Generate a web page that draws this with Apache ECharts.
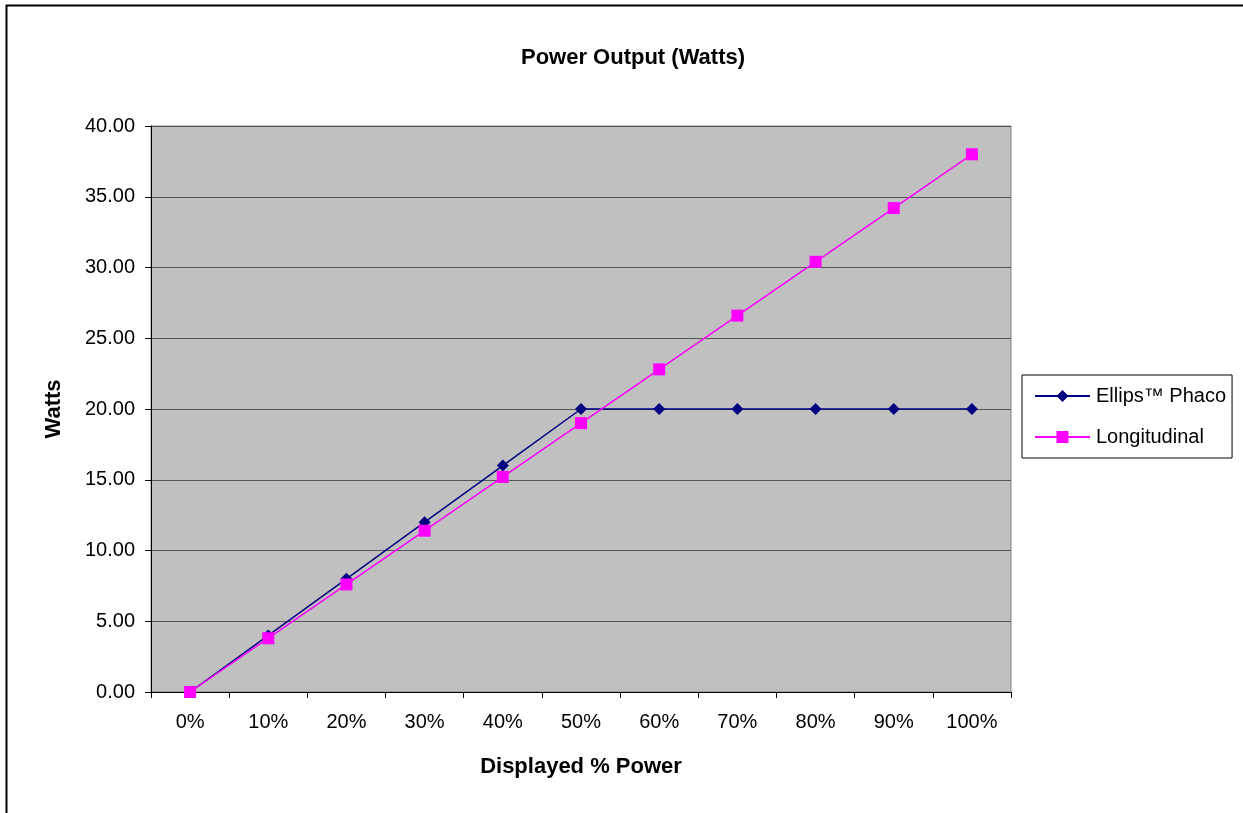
<!DOCTYPE html>
<html lang="en">
<head>
    <meta charset="UTF-8">
    <title>Power Output (Watts)</title>
    <style>
        html, body { margin: 0; padding: 0; background: #fff; }
        #main { width: 1243px; height: 813px; }
    </style>
</head>
<body>
    <div id="main"></div>
    <script src="https://cdn.jsdelivr.net/npm/echarts@6/dist/echarts.min.js"></script>
    <script>
        var categories = ['0%', '10%', '20%', '30%', '40%', '50%', '60%', '70%', '80%', '90%', '100%'];
        var ellips = [0, 4, 8, 12, 16, 20, 20, 20, 20, 20, 20];
        var longitudinal = [0, 3.8, 7.6, 11.4, 15.2, 19, 22.8, 26.6, 30.4, 34.2, 38];

        var font = 'Arial, "Liberation Sans", sans-serif';

        var option = {
            backgroundColor: '#fff',
            animation: false,
            title: {
                text: 'Power Output (Watts)',
                left: 628,
                textAlign: 'center',
                top: 42,
                textStyle: { fontFamily: font, fontSize: 22, fontWeight: 'bold', color: '#000' }
            },
            legend: {
                orient: 'vertical',
                left: 1022,
                top: 375,
                padding: [11, 6, 11, 12],
                itemGap: 21,
                itemWidth: 55,
                itemHeight: 15,
                borderColor: '#000',
                borderWidth: 1,
                backgroundColor: '#fff',
                textStyle: { fontFamily: font, fontSize: 20, color: '#000', padding: [0, 0, 0, 1] },
                data: ['Ellips™ Phaco', 'Longitudinal']
            },
            grid: {
                left: 151,
                top: 126,
                width: 860,
                height: 566,
                show: true,
                backgroundColor: '#c0c0c0',
                borderColor: '#808080',
                borderWidth: 1
            },
            xAxis: {
                type: 'category',
                data: categories,
                boundaryGap: true,
                name: 'Displayed % Power',
                nameLocation: 'middle',
                nameGap: 64,
                nameTextStyle: { fontFamily: font, fontSize: 22, fontWeight: 'bold', color: '#000' },
                axisLine: { lineStyle: { color: '#000', width: 1 } },
                axisTick: { show: true, length: 6, alignWithLabel: false, lineStyle: { color: '#000' } },
                axisLabel: { margin: 20, fontFamily: font, fontSize: 20, color: '#000' }
            },
            yAxis: {
                type: 'value',
                min: 0,
                max: 40,
                interval: 5,
                name: 'Watts',
                nameLocation: 'middle',
                nameGap: 86,
                nameRotate: 90,
                nameTextStyle: { fontFamily: font, fontSize: 22, fontWeight: 'bold', color: '#000' },
                axisLine: { show: true, lineStyle: { color: '#000', width: 1 } },
                axisTick: { show: true, length: 6, lineStyle: { color: '#000' } },
                axisLabel: {
                    margin: 16,
                    fontFamily: font,
                    fontSize: 20,
                    color: '#000',
                    formatter: function (v) { return v.toFixed(2); }
                },
                splitLine: { show: true, lineStyle: { color: '#555', width: 1 } }
            },
            series: [{
                name: 'Ellips™ Phaco',
                type: 'line',
                data: ellips,
                symbol: 'diamond',
                symbolSize: 12,
                color: '#000080',
                lineStyle: { color: '#000080', width: 1.5 },
                itemStyle: { color: '#000080' },
                z: 2
            }, {
                name: 'Longitudinal',
                type: 'line',
                data: longitudinal,
                symbol: 'rect',
                symbolSize: 12,
                color: '#ff00ff',
                lineStyle: { color: '#ff00ff', width: 1.5 },
                itemStyle: { color: '#ff00ff' },
                z: 3
            }],
            graphic: [{
                type: 'polyline',
                shape: { points: [[6.5, 813], [6.5, 5.5], [1243, 5.5]] },
                style: { stroke: '#000', lineWidth: 2, fill: null },
                silent: true
            }]
        };

        var myChart = echarts.init(document.getElementById('main'));
        myChart.setOption(option);
    </script>
</body>
</html>
